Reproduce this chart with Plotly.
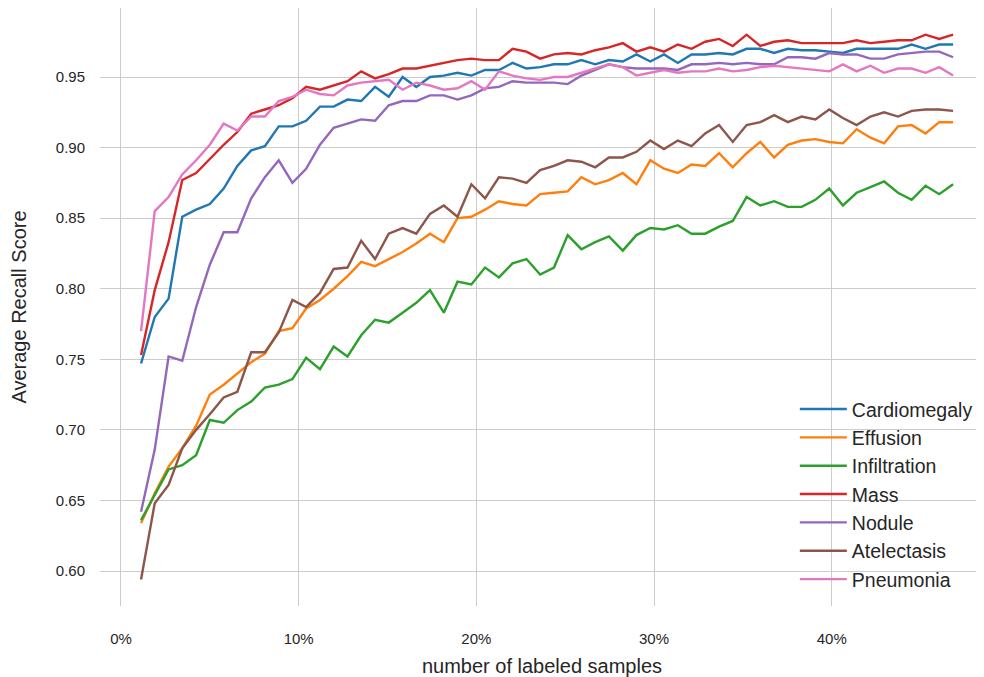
import plotly.graph_objects as go

# x positions: percent of labeled samples
x_pct = [1.13, 1.90, 2.68, 3.45, 4.23, 5.00, 5.78, 6.55, 7.33, 8.10,
         8.88, 9.65, 10.42, 11.20, 11.97, 12.75, 13.52, 14.30, 15.07, 15.85,
         16.62, 17.39, 18.17, 18.94, 19.72, 20.49, 21.27, 22.04, 22.82, 23.59,
         24.37, 25.14, 25.91, 26.69, 27.46, 28.24, 29.01, 29.79, 30.56, 31.34,
         32.11, 32.88, 33.66, 34.43, 35.21, 35.98, 36.76, 37.53, 38.31, 39.08,
         39.86, 40.63, 41.40, 42.18, 42.95, 43.73, 44.50, 45.28, 46.05, 46.83]

cardiomegaly = [0.747, 0.780, 0.793, 0.851, 0.856, 0.860, 0.871, 0.887, 0.898, 0.901,
                0.915, 0.915, 0.919, 0.929, 0.929, 0.934, 0.933, 0.943, 0.936, 0.950,
                0.943, 0.950, 0.951, 0.953, 0.951, 0.955, 0.955, 0.960, 0.956, 0.957,
                0.959, 0.959, 0.962, 0.959, 0.962, 0.961, 0.966, 0.961, 0.966, 0.960,
                0.966, 0.966, 0.967, 0.966, 0.970, 0.970, 0.967, 0.970, 0.969, 0.969,
                0.968, 0.967, 0.970, 0.970, 0.970, 0.970, 0.973, 0.970, 0.973, 0.973]

effusion = [0.634, 0.655, 0.674, 0.687, 0.703, 0.725, 0.732, 0.740, 0.748, 0.754,
            0.770, 0.772, 0.786, 0.792, 0.800, 0.809, 0.819, 0.816, 0.821, 0.826,
            0.832, 0.839, 0.833, 0.850, 0.851, 0.856, 0.862, 0.860, 0.859, 0.867,
            0.868, 0.869, 0.879, 0.874, 0.877, 0.882, 0.874, 0.891, 0.885, 0.882,
            0.888, 0.887, 0.896, 0.886, 0.896, 0.904, 0.893, 0.902, 0.905, 0.906,
            0.904, 0.903, 0.913, 0.907, 0.903, 0.915, 0.916, 0.910, 0.918, 0.918]

infiltration = [0.636, 0.654, 0.672, 0.675, 0.682, 0.707, 0.705, 0.714, 0.720, 0.730,
                0.732, 0.736, 0.751, 0.743, 0.759, 0.752, 0.767, 0.778, 0.776, 0.783,
                0.790, 0.799, 0.783, 0.805, 0.803, 0.815, 0.808, 0.818, 0.821, 0.810,
                0.815, 0.838, 0.828, 0.833, 0.837, 0.827, 0.838, 0.843, 0.842, 0.845,
                0.839, 0.839, 0.844, 0.848, 0.865, 0.859, 0.862, 0.858, 0.858, 0.863,
                0.871, 0.859, 0.868, 0.872, 0.876, 0.868, 0.863, 0.873, 0.867, 0.874]

mass = [0.753, 0.799, 0.833, 0.877, 0.882, 0.892, 0.902, 0.911, 0.924, 0.927,
        0.930, 0.935, 0.943, 0.941, 0.944, 0.947, 0.954, 0.949, 0.952, 0.956,
        0.956, 0.958, 0.960, 0.962, 0.963, 0.962, 0.962, 0.970, 0.968, 0.963,
        0.966, 0.967, 0.966, 0.969, 0.971, 0.974, 0.968, 0.971, 0.968, 0.973,
        0.970, 0.975, 0.977, 0.972, 0.980, 0.972, 0.975, 0.976, 0.974, 0.974,
        0.974, 0.974, 0.976, 0.974, 0.975, 0.976, 0.976, 0.980, 0.977, 0.980]

nodule = [0.642, 0.686, 0.752, 0.749, 0.787, 0.817, 0.840, 0.840, 0.864, 0.879,
          0.891, 0.875, 0.885, 0.902, 0.914, 0.917, 0.920, 0.919, 0.930, 0.933,
          0.933, 0.937, 0.937, 0.934, 0.937, 0.942, 0.943, 0.947, 0.946, 0.946,
          0.946, 0.945, 0.951, 0.955, 0.959, 0.957, 0.956, 0.956, 0.956, 0.955,
          0.959, 0.959, 0.960, 0.959, 0.960, 0.959, 0.959, 0.964, 0.964, 0.963,
          0.967, 0.966, 0.966, 0.963, 0.963, 0.966, 0.967, 0.968, 0.968, 0.964]

atelectasis = [0.594, 0.648, 0.661, 0.687, 0.700, 0.711, 0.723, 0.727, 0.755, 0.755,
               0.769, 0.792, 0.787, 0.797, 0.814, 0.815, 0.834, 0.821, 0.839, 0.843,
               0.839, 0.853, 0.859, 0.851, 0.874, 0.864, 0.879, 0.878, 0.875, 0.884,
               0.887, 0.891, 0.890, 0.886, 0.893, 0.893, 0.897, 0.905, 0.899, 0.905,
               0.901, 0.910, 0.916, 0.904, 0.916, 0.918, 0.923, 0.918, 0.922, 0.920,
               0.927, 0.921, 0.916, 0.922, 0.925, 0.922, 0.926, 0.927, 0.927, 0.926]

pneumonia = [0.770, 0.855, 0.865, 0.881, 0.891, 0.902, 0.917, 0.912, 0.922, 0.922,
             0.933, 0.936, 0.941, 0.938, 0.937, 0.944, 0.946, 0.947, 0.948, 0.941,
             0.946, 0.944, 0.941, 0.942, 0.947, 0.941, 0.954, 0.951, 0.949, 0.948,
             0.950, 0.950, 0.953, 0.956, 0.959, 0.957, 0.951, 0.953, 0.955, 0.953,
             0.954, 0.954, 0.956, 0.954, 0.955, 0.957, 0.958, 0.957, 0.956, 0.955,
             0.954, 0.959, 0.954, 0.958, 0.953, 0.956, 0.956, 0.953, 0.957, 0.951]

series_names = ["Cardiomegaly", "Effusion", "Infiltration", "Mass",
                "Nodule", "Atelectasis", "Pneumonia"]
series_values = [cardiomegaly, effusion, infiltration, mass,
                 nodule, atelectasis, pneumonia]
colors = ["#1f77b4", "#ff7f0e", "#2ca02c", "#d62728",
          "#9467bd", "#8c564b", "#e377c2"]

y_ticks = [0.60, 0.65, 0.70, 0.75, 0.80, 0.85, 0.90, 0.95]
x_ticks = [0, 10, 20, 30, 40]

FONT = "Liberation Sans, Arial, sans-serif"
TXT = "#262626"

fig = go.Figure()
for name, vals, col in zip(series_names, series_values, colors):
    fig.add_trace(go.Scatter(
        x=x_pct, y=vals, mode="lines", name=name, legendgroup=name,
        line=dict(color=col, width=2.4),
    ))

# the page body has an 8px default margin, so the figure is sized to fit
fig.update_layout(
    width=976, height=669,
    margin=dict(l=92, r=0, t=0, b=71),
    paper_bgcolor="white", plot_bgcolor="white",
    font=dict(family=FONT, color=TXT, size=15),
    showlegend=True,
    legend=dict(
        x=0.786, xanchor="left", y=0.012, yanchor="bottom",
        bgcolor="rgba(255,255,255,0)", borderwidth=0,
        font=dict(size=19.5, family=FONT, color=TXT),
        tracegroupgap=0, itemwidth=47,
    ),
    xaxis=dict(
        range=[-1.18, 48.57], tickvals=x_ticks,
        ticktext=[f"{v}%" for v in x_ticks],
        showgrid=True, gridcolor="#cccccc", gridwidth=1.3,
        zeroline=False, showline=False, ticks="",
        tickfont=dict(size=15), ticklabelstandoff=22,
        title=dict(text="number of labeled samples", font=dict(size=20), standoff=17),
    ),
    yaxis=dict(
        range=[0.5752, 0.9989], tickvals=y_ticks,
        ticktext=[f"{v:.2f}" for v in y_ticks],
        showgrid=True, gridcolor="#cccccc", gridwidth=1.3,
        zeroline=False, showline=False, ticks="",
        tickfont=dict(size=15), ticklabelstandoff=14,
        title=dict(text="Average Recall Score", font=dict(size=20), standoff=25),
    ),
)

fig.write_html("out.html")
